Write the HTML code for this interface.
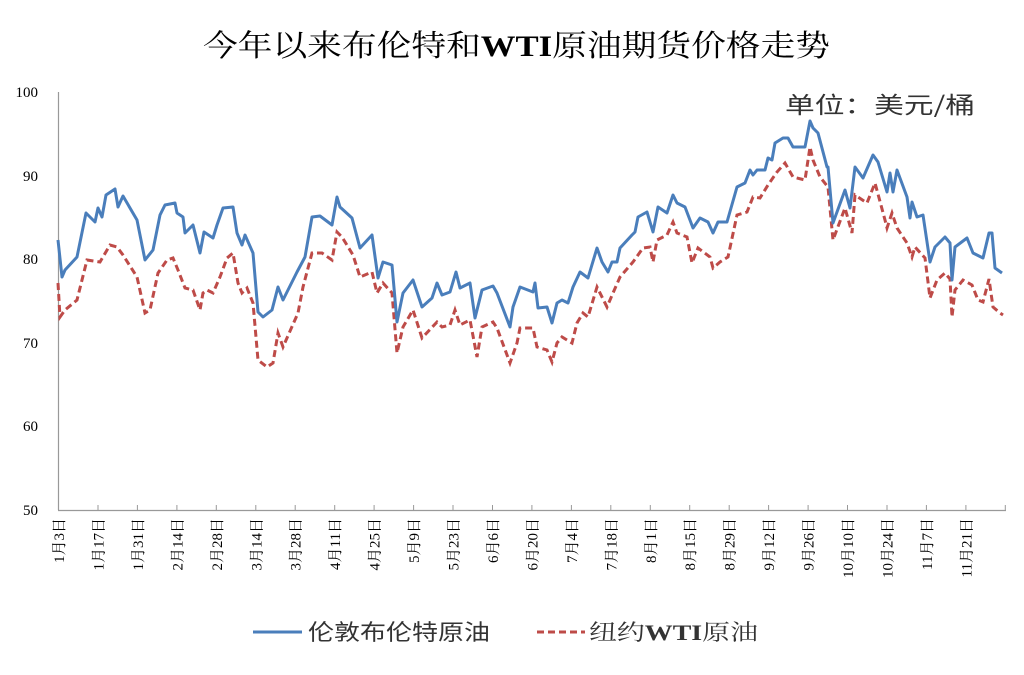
<!DOCTYPE html>
<html><head><meta charset="utf-8"><style>body{margin:0;background:#fff}svg{display:block}</style></head><body>
<svg width="1024" height="675" viewBox="0 0 1024 675" xmlns="http://www.w3.org/2000/svg" font-family="'Liberation Serif','Noto Serif CJK SC','Noto Sans CJK SC',serif">
<rect width="1024" height="675" fill="#fff"/>
<text x="203" y="56" font-size="30" textLength="627" lengthAdjust="spacingAndGlyphs" fill="#000">今年以来布伦特和<tspan font-weight="bold">WTI</tspan>原油期货价格走势</text>
<text x="785" y="113" font-size="23" textLength="190" lengthAdjust="spacingAndGlyphs" fill="#333" font-family="'Noto Sans CJK SC',sans-serif">单位：美元/桶</text>
<g stroke="#999" stroke-width="1.2" fill="none">
<line x1="58.5" y1="92" x2="58.5" y2="510"/>
<line x1="58" y1="510.5" x2="1006" y2="510.5"/>
</g>
<g font-size="15" fill="#000" text-anchor="end">
<text x="38" y="97">100</text><text x="38" y="181">90</text><text x="38" y="264">80</text><text x="38" y="348">70</text><text x="38" y="431">60</text><text x="38" y="515">50</text>
</g>
<g stroke="#999" stroke-width="1">
<line x1="98" y1="505" x2="98" y2="511"/><line x1="137.4" y1="505" x2="137.4" y2="511"/><line x1="176.9" y1="505" x2="176.9" y2="511"/><line x1="216.3" y1="505" x2="216.3" y2="511"/><line x1="255.8" y1="505" x2="255.8" y2="511"/><line x1="295.2" y1="505" x2="295.2" y2="511"/><line x1="334.7" y1="505" x2="334.7" y2="511"/><line x1="374.1" y1="505" x2="374.1" y2="511"/><line x1="413.6" y1="505" x2="413.6" y2="511"/><line x1="453" y1="505" x2="453" y2="511"/><line x1="492.5" y1="505" x2="492.5" y2="511"/><line x1="531.9" y1="505" x2="531.9" y2="511"/><line x1="571.4" y1="505" x2="571.4" y2="511"/><line x1="610.8" y1="505" x2="610.8" y2="511"/><line x1="650.3" y1="505" x2="650.3" y2="511"/><line x1="689.7" y1="505" x2="689.7" y2="511"/><line x1="729.2" y1="505" x2="729.2" y2="511"/><line x1="768.6" y1="505" x2="768.6" y2="511"/><line x1="808.1" y1="505" x2="808.1" y2="511"/><line x1="847.5" y1="505" x2="847.5" y2="511"/><line x1="887" y1="505" x2="887" y2="511"/><line x1="926.4" y1="505" x2="926.4" y2="511"/><line x1="965.9" y1="505" x2="965.9" y2="511"/><line x1="1005.3" y1="505" x2="1005.3" y2="511"/>
</g>
<g font-size="15" fill="#000" text-anchor="end">
<text transform="translate(64,518) rotate(-90)">1月3日</text>
<text transform="translate(103.5,518) rotate(-90)">1月17日</text>
<text transform="translate(142.9,518) rotate(-90)">1月31日</text>
<text transform="translate(182.4,518) rotate(-90)">2月14日</text>
<text transform="translate(221.8,518) rotate(-90)">2月28日</text>
<text transform="translate(261.3,518) rotate(-90)">3月14日</text>
<text transform="translate(300.7,518) rotate(-90)">3月28日</text>
<text transform="translate(340.2,518) rotate(-90)">4月11日</text>
<text transform="translate(379.6,518) rotate(-90)">4月25日</text>
<text transform="translate(419.1,518) rotate(-90)">5月9日</text>
<text transform="translate(458.5,518) rotate(-90)">5月23日</text>
<text transform="translate(498,518) rotate(-90)">6月6日</text>
<text transform="translate(537.4,518) rotate(-90)">6月20日</text>
<text transform="translate(576.9,518) rotate(-90)">7月4日</text>
<text transform="translate(616.3,518) rotate(-90)">7月18日</text>
<text transform="translate(655.8,518) rotate(-90)">8月1日</text>
<text transform="translate(695.2,518) rotate(-90)">8月15日</text>
<text transform="translate(734.7,518) rotate(-90)">8月29日</text>
<text transform="translate(774.1,518) rotate(-90)">9月12日</text>
<text transform="translate(813.6,518) rotate(-90)">9月26日</text>
<text transform="translate(853,518) rotate(-90)">10月10日</text>
<text transform="translate(892.5,518) rotate(-90)">10月24日</text>
<text transform="translate(931.9,518) rotate(-90)">11月7日</text>
<text transform="translate(971.4,518) rotate(-90)">11月21日</text>
</g>
<polyline fill="none" stroke="#be4b48" stroke-width="3" stroke-dasharray="7,4" points="58,283 60,317 65,310 77,300 87,260 100,262 110,245 117,247 123,255 137,277 145,313 150,310 158,273 167,260 173,258 178,270 185,288 193,290 200,310 203,293 207,290 213,293 220,277 227,258 233,253 238,283 242,293 247,288 253,303 258,360 267,367 273,363 278,333 283,347 298,313 303,287 312,253 322,253 332,260 337,232 342,237 353,255 360,277 372,272 377,293 383,283 392,293 397,353 403,327 413,310 422,338 437,322 442,327 450,325 455,310 460,325 470,320 477,357 482,327 493,322 497,328 510,363 517,343 520,328 533,328 537,347 547,350 552,362 557,343 562,337 572,343 577,323 583,313 588,317 597,287 607,307 613,293 620,277 633,262 643,248 650,247 653,262 657,240 667,235 673,222 677,233 687,237 692,263 698,248 710,257 713,268 720,262 728,257 737,215 747,212 753,197 760,198 768,185 777,172 785,163 793,177 805,180 810,147 813,160 820,177 828,187 833,240 845,208 852,233 855,195 867,203 875,183 885,220 887,228 892,213 897,228 907,243 912,257 915,247 925,258 930,298 937,280 945,273 950,279 952,317 955,290 963,280 972,285 978,300 983,302 989,279 993,307 1000,313 1003,315"/>
<polyline fill="none" stroke="#4a7ebb" stroke-width="3" stroke-linejoin="round" points="58,240 62,277 65,270 77,257 86,213 95,222 98,208 102,217 106,195 115,189 118,207 123,196 137,220 145,260 153,250 160,215 165,205 175,203 177,213 183,217 185,233 193,225 200,253 204,232 213,238 217,225 223,208 233,207 237,233 242,245 245,235 253,253 258,312 263,317 272,310 278,287 283,300 297,272 305,257 312,217 320,216 332,225 337,197 340,207 352,218 360,248 372,235 378,278 383,262 392,265 397,322 403,293 413,280 422,307 432,298 437,283 442,295 450,292 456,272 460,288 470,283 475,318 482,290 493,286 497,293 510,327 513,307 520,287 533,292 535,283 538,308 547,307 552,323 557,303 562,300 568,303 573,287 580,272 588,278 597,248 602,262 608,272 612,262 617,262 620,248 632,235 635,232 638,217 647,212 653,232 658,207 667,213 673,195 677,203 685,207 693,228 700,218 708,222 713,233 718,222 727,222 737,187 745,183 750,170 753,175 757,170 765,170 768,158 772,160 775,143 783,138 788,138 793,147 805,147 810,121 813,128 818,133 827,167 828,167 833,223 845,190 850,208 855,167 863,178 873,155 878,162 887,192 890,173 893,192 897,170 907,197 910,218 912,202 917,217 923,215 930,262 935,247 945,237 950,243 952,280 955,247 967,238 973,253 983,258 989,233 992,233 995,268 1002,273"/>
<line x1="253" y1="632" x2="302" y2="632" stroke="#4a7ebb" stroke-width="3"/>
<text x="308" y="640" font-size="22" textLength="182" lengthAdjust="spacingAndGlyphs" fill="#333" font-family="'Noto Sans CJK SC',sans-serif">伦敦布伦特原油</text>
<line x1="537" y1="632" x2="585" y2="632" stroke="#be4b48" stroke-width="3" stroke-dasharray="7,4"/>
<text x="589" y="640" font-size="22" textLength="169" lengthAdjust="spacingAndGlyphs" fill="#333">纽约<tspan font-weight="bold">WTI</tspan>原油</text>
</svg>
</body></html>
